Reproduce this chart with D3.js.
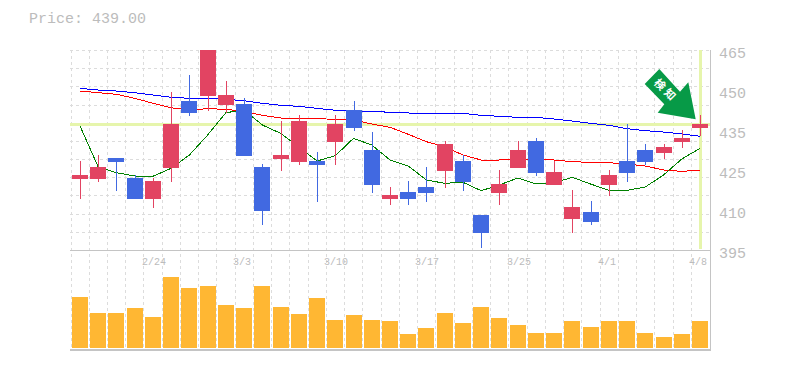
<!DOCTYPE html>
<html><head><meta charset="utf-8">
<script src="https://cdn.jsdelivr.net/npm/d3@7"></script>
<style>html,body{margin:0;padding:0;background:#fff}svg{display:block}</style>
</head><body><svg id="c" width="785" height="370"></svg>
<script>
const dates=["2/18","2/19","2/20","2/21","2/24","2/25","2/26","2/27","2/28","3/3","3/4","3/5","3/6","3/7","3/10","3/11","3/12","3/13","3/14","3/17","3/18","3/19","3/20","3/24","3/25","3/26","3/27","3/28","3/31","4/1","4/2","4/3","4/4","4/7","4/8"];
const opens=[420.67,420.67,427.67,421,414,424.33,446.67,448.33,445.33,445.67,424.67,427.33,426.33,426.67,433,443.67,430.33,414,416.33,418,423.33,426.67,408.67,416,424.33,433.33,418.67,407.33,409.67,418.67,426.67,430.33,429.33,433,437.67];
const closes=[422,424.67,426.33,414,420,439,442.67,465.67,448.67,428.33,410,428.67,440,425.33,439,437.67,418.67,415.33,414,416,432.33,419.67,402.67,419,430.33,422.67,423,411.33,406.33,422,422.67,426.33,431.33,434.33,439];
const highs=[426.67,428.67,427.67,422,421,449.67,455.33,466,453.33,447.67,425.67,440,442,429.67,442,446.67,436.33,418,420,424.67,433.33,428.67,408.67,423.67,433.33,434.33,426.67,417,413.33,423.67,439,432.33,432.33,437,442];
const lows=[414,419.67,416.67,414,411,419.67,441.67,443.33,442.67,428.33,405.33,423.33,425.33,413,425.33,436.67,416,412,412,413,417.67,416.67,397.67,412,424.33,421.67,418.67,402.67,405.33,415,419.67,425.33,427.33,431,435];
const maShort=[438.33,424.67,422.77,421.67,421.57,424.23,428.67,435.33,442.77,443.67,438.67,435.9,431.33,426.67,428.43,434.23,432,427,425,420.33,419.23,419.57,416.77,418.67,421,419,419.43,421.23,419,416.9,416.9,418,422,427.33,430.9];
const maMid=[450,449.43,448.9,447.57,445.9,444.43,443.67,444.1,443.9,443.23,441.9,441,440.77,440.77,440.57,440.33,439,437.9,435.57,433.1,431.43,428.67,427,427,427.23,427.33,427,426.43,426.23,426.1,425.67,425,423.67,423.23,423.57];
const maLong=[450.9,450.33,450,449.43,448.67,447.9,447.57,447.57,447.23,446.77,445.9,445.23,444.9,444.23,443.57,443.33,443.23,442.9,442.67,442.57,442.57,442.57,441.9,441.57,441.23,441.23,440.67,440,439.23,438.57,437.43,436.77,436.33,435.67,434.9];
const volumes=[51,35,35,40,31,71,60,62,43,40,62,41,34,50,28,33,28,27,14,20,35,25,41,30,23,15,15,27,21,27,27,15,11,14,27];
const priceLabels=["465","450","435","425","410","395"];
const dateLabels=["2/24","3/3","3/10","3/17","3/25","4/1","4/8"];
const lastPrice=439;
const titleText="Price: 439.00";
const badgeText="検知";

const svg=d3.select("#c");
const L=70,R=710,T=50,B=250,VB=350,VZ=348;
const xp=d3.scalePoint().domain(dates).range([80,700]);
const y=d3.scaleLinear().domain([463.67,397]).range([T,B]);
const yv=d3.scaleLinear().domain([0,100]).range([VZ,VZ-100]);
const yl=d3.scalePoint().domain(priceLabels).range([53,253]);
const GRID="#dcdcdc",AX="#c4c4c4",TXT="#bcbcbc",HL="#e6f5ac";
const RED="#e24462",BLUE="#4169e1";
const px=d=>Math.round(xp(d));

svg.append("defs").append("clipPath").attr("id","pc").append("rect").attr("x",L).attr("y",T).attr("width",R-L).attr("height",B-T);

// grid
const grid=svg.append("g").attr("stroke",GRID).attr("stroke-dasharray","3,3").attr("shape-rendering","crispEdges");
const nV=dates.length;
d3.range(nV).forEach(i=>{
  const gx=Math.round(70.5+i*(638.5/nV))+.5;
  grid.append("line").attr("x1",gx).attr("x2",gx).attr("y1",T).attr("y2",VB);
});
d3.range(11).forEach(i=>{
  const gy=Math.round(T+i*(B-T)/11)+.5;
  grid.append("line").attr("x1",L).attr("x2",R).attr("y1",gy).attr("y2",gy);
});

// price highlight
svg.append("line").attr("x1",L).attr("x2",R).attr("y1",y(lastPrice)).attr("y2",y(lastPrice)).attr("stroke",HL).attr("stroke-width",3).attr("shape-rendering","crispEdges");
svg.append("line").attr("x1",px(dates[nV-1])+.5).attr("x2",px(dates[nV-1])+.5).attr("y1",T).attr("y2",B-1).attr("stroke",HL).attr("stroke-width",3).attr("shape-rendering","crispEdges");

// moving averages
const line=d3.line().x((d,i)=>xp(dates[i])).y(d=>y(d));
[[maLong,"#0000ff"],[maMid,"#ff0000"],[maShort,"#008000"]].forEach(([a,c])=>{
  svg.append("path").attr("d",line(a)).attr("fill","none").attr("stroke",c).attr("stroke-width",1).attr("shape-rendering","crispEdges");
});

// candles
const cg=svg.append("g").attr("clip-path","url(#pc)").attr("shape-rendering","crispEdges");
dates.forEach((d,i)=>{
  const c=closes[i]>=opens[i]?RED:BLUE, cx=px(d);
  cg.append("rect").attr("x",cx).attr("width",1).attr("y",Math.round(y(highs[i]))).attr("height",Math.round(y(lows[i]))-Math.round(y(highs[i]))).attr("fill",c);
  const t=Math.round(y(Math.max(opens[i],closes[i]))),b=Math.round(y(Math.min(opens[i],closes[i])));
  cg.append("rect").attr("x",cx-8).attr("width",16).attr("y",t).attr("height",Math.max(1,b-t)).attr("fill",c);
});

// volume
svg.append("g").selectAll("rect").data(volumes).join("rect")
  .attr("x",(d,i)=>px(dates[i])-8).attr("width",16)
  .attr("y",d=>yv(d)).attr("height",d=>VZ-yv(d)).attr("fill","#ffb733").attr("shape-rendering","crispEdges");

// frame
const fr=svg.append("g").attr("stroke",AX).attr("shape-rendering","crispEdges");
fr.append("line").attr("x1",L).attr("x2",R+1).attr("y1",B+.5).attr("y2",B+.5);
fr.append("line").attr("x1",L).attr("x2",R+1).attr("y1",VB-.5).attr("y2",VB-.5).attr("stroke-width",2);
fr.append("line").attr("x1",R+.5).attr("x2",R+.5).attr("y1",T).attr("y2",VB);

// text
const mono='"Liberation Mono",monospace';
svg.append("text").attr("x",29).attr("y",23).attr("font-family",mono).attr("font-size",15).attr("fill",TXT).text(titleText);
svg.append("g").selectAll("text").data(priceLabels).join("text").attr("x",719).attr("y",d=>yl(d)).attr("dy","0.36em")
  .attr("font-family",mono).attr("font-size",15).attr("fill",TXT).text(d=>d);
svg.append("g").selectAll("text").data(dateLabels).join("text").attr("x",d=>px(d)-11).attr("y",265)
  .attr("font-family",mono).attr("font-size",10).attr("fill",TXT).text(d=>d);

// arrow badge
svg.append("path").attr("d","M659.3,69L644.7,84L664.3,104.3L657.7,112.7L695.7,119.3L688.3,82.3L680,91.7Z").attr("fill","#079a47");
svg.append("text").attr("transform","translate(666,90.5) rotate(45)").attr("text-anchor","middle").attr("dy","0.36em")
  .attr("font-family",'"Noto Sans CJK JP"').attr("font-weight",700).attr("font-size",11).attr("letter-spacing",3).attr("fill","#fff").text(badgeText);
</script></body></html>
